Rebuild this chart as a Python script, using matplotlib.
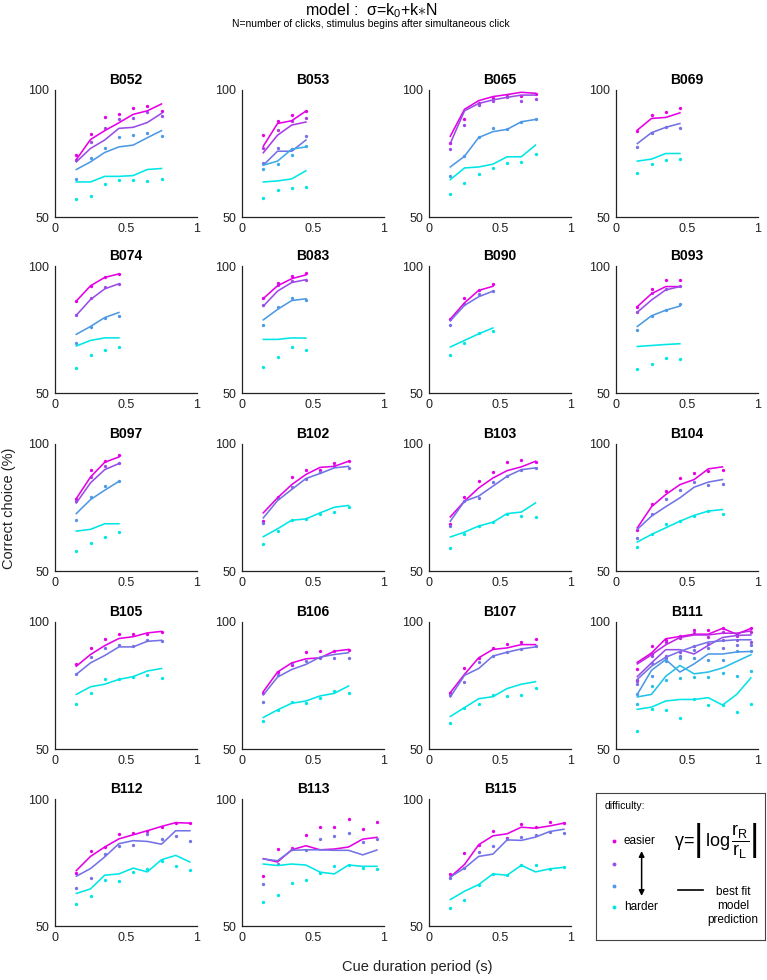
import numpy as np
import matplotlib.pyplot as plt

plt.rcParams["font.family"] = ["Liberation Sans", "DejaVu Sans"]
plt.rcParams["mathtext.fontset"] = "custom"
plt.rcParams["mathtext.rm"] = "Liberation Sans"
plt.rcParams["mathtext.it"] = "Liberation Sans:italic"

# cue durations (s)
DUR4 = [0.15, 0.25, 0.35, 0.45]
DUR7 = [0.15, 0.25, 0.35, 0.45, 0.55, 0.65, 0.75]
DUR9 = [0.15, 0.25, 0.35, 0.45, 0.55, 0.65, 0.75, 0.85, 0.95]

RATS = ["B052", "B053", "B065", "B069", "B074", "B083", "B090", "B093",
        "B097", "B102", "B103", "B104", "B105", "B106", "B107", "B111",
        "B112", "B113", "B115"]

# model fits (rows: easier -> harder), % correct
B052_fit = [[72.6, 80.5, 84.0, 87.1, 90.4, 91.8, 94.5],
            [71.7, 77.0, 80.3, 84.9, 85.3, 87.2, 90.8],
            [68.7, 71.7, 75.4, 77.6, 78.3, 81.2, 84.0],
            [63.8, 63.8, 66.0, 66.0, 66.3, 68.7, 69.1]]
B052_data = [[74.3, 82.8, 89.5, 90.5, 93.0, 93.7, 91.8],
             [72.4, 79.6, 84.9, 88.4, 89.0, 91.2, 89.7],
             [64.9, 73.4, 77.2, 81.6, 82.2, 83.2, 81.8],
             [57.0, 58.2, 62.9, 64.5, 64.7, 64.2, 65.1]]

B053_fit = [[77.9, 86.8, 87.9, 91.7],
            [75.3, 82.2, 86.2, 87.4],
            [70.4, 75.9, 75.9, 80.3],
            [70.4, 72.0, 76.7, 77.6],
            [63.8, 64.2, 65.0, 68.2]]
B053_data = [[82.2, 87.9, 90.1, 91.7],
             [77.2, 84.2, 87.9, 88.8],
             [71.4, 77.0, 76.7, 81.8],
             [68.8, 70.8, 74.3, 77.9],
             [57.6, 60.5, 61.6, 61.8]]

B065_fit = [[81.8, 92.4, 95.8, 97.4, 98.2, 99.1, 98.7],
            [79.0, 91.8, 94.7, 96.1, 97.1, 98.0, 98.0],
            [69.7, 73.9, 81.3, 83.6, 84.5, 87.5, 88.4],
            [64.7, 69.3, 69.7, 70.8, 73.7, 73.7, 78.3]]
B065_data = [[79.2, 88.4, 94.7, 96.7, 97.6, 97.6, 98.4],
             [76.8, 86.1, 94.0, 95.8, 97.1, 95.8, 96.4],
             [66.0, 73.9, 81.3, 84.9, 84.5, 87.5, 88.4],
             [59.2, 63.2, 66.8, 69.3, 71.3, 71.7, 74.7]]

B069_fit = [[84.2, 88.8, 89.2, 91.0],
            [78.9, 83.2, 85.3, 86.8],
            [72.0, 72.8, 75.0, 75.0]]
B069_data = [[83.9, 90.1, 91.2, 92.8],
             [77.6, 83.2, 85.3, 85.1],
             [67.4, 70.8, 72.4, 73.0]]

B074_fit = [[86.2, 92.2, 95.5, 96.9],
            [80.6, 86.8, 91.0, 93.0],
            [73.1, 76.2, 79.7, 81.7],
            [68.5, 70.7, 71.7, 71.7]]
B074_data = [[86.2, 92.2, 95.6, 96.9],
             [80.6, 87.5, 91.6, 93.0],
             [69.5, 75.8, 79.7, 80.4],
             [60.0, 65.1, 67.1, 68.0]]

B083_fit = [[87.2, 92.2, 95.0, 96.5],
            [84.2, 90.1, 93.5, 94.6],
            [78.8, 82.9, 86.4, 87.1],
            [71.1, 71.1, 71.7, 71.6]]
B083_data = [[87.5, 93.3, 95.9, 97.4],
             [84.5, 92.6, 93.9, 94.6],
             [76.9, 83.8, 87.5, 86.8],
             [60.3, 64.2, 68.2, 66.8]]

B090_fit = [[79.1, 85.5, 90.4, 92.0],
            [78.4, 84.5, 87.9, 90.1],
            [68.1, 70.7, 73.3, 75.6]]
B090_data = [[79.1, 87.5, 90.7, 92.9],
             [76.7, 84.9, 89.1, 90.1],
             [64.9, 69.8, 73.5, 74.5]]

B093_fit = [[84.0, 89.1, 91.9, 91.9],
            [81.8, 86.6, 90.6, 91.9],
            [76.2, 80.4, 82.6, 84.2],
            [68.3, 68.7, 69.1, 69.4]]
B093_data = [[84.0, 91.0, 94.4, 94.4],
             [81.8, 89.3, 90.8, 92.1],
             [74.9, 80.4, 82.6, 84.9],
             [59.4, 61.6, 63.6, 63.2]]

B097_fit = [[78.5, 87.0, 92.8, 94.9],
            [76.8, 84.7, 89.9, 92.3],
            [72.6, 78.1, 81.8, 85.3],
            [65.7, 66.4, 68.6, 68.6]]
B097_data = [[78.5, 89.7, 93.2, 95.8],
             [77.5, 87.0, 91.2, 92.5],
             [69.9, 79.2, 83.4, 85.3],
             [57.9, 61.0, 63.4, 65.4]]

B102_fit = [[72.9, 78.8, 84.0, 88.0, 90.8, 91.2, 93.2],
            [70.9, 77.7, 82.1, 86.4, 88.4, 90.6, 91.2],
            [63.5, 66.6, 70.0, 70.5, 72.9, 75.1, 75.8]]
B102_data = [[69.6, 79.2, 87.0, 89.9, 89.7, 92.5, 93.2],
             [69.0, 78.7, 83.0, 86.4, 88.9, 91.2, 90.7],
             [60.7, 65.7, 69.9, 70.5, 72.5, 73.3, 75.3]]

B103_fit = [[71.3, 77.5, 82.7, 86.6, 89.5, 91.0, 93.2],
            [69.6, 77.5, 79.5, 83.4, 87.3, 89.9, 90.6],
            [63.4, 65.3, 67.7, 69.2, 72.6, 73.2, 76.8]]
B103_data = [[68.7, 79.1, 85.6, 89.0, 92.9, 93.6, 92.9],
             [67.9, 77.5, 78.8, 85.1, 87.3, 89.9, 90.5],
             [59.2, 64.4, 67.7, 69.2, 72.5, 71.6, 71.2]]

B104_fit = [[67.0, 75.3, 80.1, 84.0, 86.0, 90.2, 91.0],
            [66.4, 71.6, 75.3, 78.8, 83.0, 85.0, 86.0],
            [61.4, 64.4, 67.0, 69.6, 71.9, 73.6, 74.2]]
B104_data = [[66.1, 76.2, 81.4, 86.6, 88.4, 89.3, 89.9],
             [63.1, 72.3, 78.5, 81.9, 85.1, 83.9, 84.4],
             [59.6, 64.4, 68.6, 69.6, 71.5, 73.6, 72.6]]

B105_fit = [[82.6, 87.2, 90.7, 93.5, 94.2, 95.7, 96.3],
            [79.4, 83.9, 86.8, 90.2, 90.2, 92.4, 92.8],
            [71.5, 74.5, 75.5, 77.4, 78.5, 80.7, 81.7]]
B105_data = [[83.6, 89.6, 93.3, 95.3, 95.4, 95.4, 96.0],
             [79.4, 86.3, 89.6, 91.0, 90.7, 92.8, 92.4],
             [67.6, 72.2, 77.7, 77.7, 78.5, 79.1, 78.1]]

B106_fit = [[72.6, 80.3, 83.9, 85.5, 85.9, 88.5, 89.2],
            [71.3, 78.3, 81.3, 83.3, 86.2, 87.2, 87.9],
            [62.4, 65.4, 68.0, 68.9, 70.9, 71.9, 74.8]]
B106_data = [[72.2, 80.3, 82.9, 88.1, 88.5, 88.5, 88.9],
             [68.7, 79.3, 83.7, 84.5, 85.9, 85.9, 85.9],
             [61.1, 65.4, 68.6, 68.3, 70.2, 72.8, 72.2]]

B107_fit = [[72.2, 79.4, 85.9, 89.2, 89.8, 91.1, 91.1],
            [70.5, 79.0, 81.7, 86.6, 88.1, 89.4, 90.2],
            [62.8, 66.3, 69.8, 70.6, 73.8, 75.5, 76.5]]
B107_data = [[72.2, 81.7, 85.9, 89.8, 91.5, 92.2, 93.3],
             [71.1, 76.4, 84.2, 86.8, 88.1, 89.4, 90.5],
             [60.2, 66.3, 67.9, 71.1, 70.9, 71.4, 73.9]]

B111_fit = [[84.1, 87.8, 93.4, 94.3, 95.2, 95.2, 97.5, 95.2, 97.5],
            [83.5, 87.1, 91.0, 93.9, 94.9, 94.9, 95.6, 95.6, 96.5],
            [78.5, 83.9, 89.1, 89.1, 87.4, 90.8, 93.9, 94.7, 94.9],
            [77.4, 82.6, 86.1, 88.4, 90.4, 92.1, 92.6, 93.0, 93.0],
            [71.5, 81.0, 85.2, 80.3, 83.5, 87.4, 87.4, 88.2, 88.4],
            [70.5, 71.5, 78.6, 82.9, 79.6, 80.3, 81.9, 84.5, 87.1],
            [65.6, 66.5, 68.9, 69.5, 69.5, 70.2, 67.3, 71.5, 78.0]]
B111_data = [[81.3, 90.6, 93.0, 94.3, 96.9, 96.9, 97.5, 95.2, 97.8],
             [77.3, 87.4, 92.3, 93.6, 95.6, 93.9, 96.2, 94.3, 96.2],
             [76.7, 86.5, 86.5, 88.2, 90.4, 91.3, 93.0, 93.0, 92.3],
             [75.4, 83.9, 85.8, 86.5, 89.1, 89.7, 89.7, 91.0, 91.0],
             [71.5, 78.9, 84.5, 85.8, 85.8, 85.2, 85.2, 88.4, 88.4],
             [67.6, 74.7, 77.0, 78.0, 78.3, 78.3, 80.0, 78.9, 80.6],
             [56.9, 65.6, 65.2, 62.4, 69.5, 67.3, 67.3, 64.7, 67.8]]

B112_fit = [[71.8, 77.4, 81.1, 84.3, 85.9, 87.5, 89.2, 90.7, 90.5],
            [69.6, 72.6, 77.2, 82.4, 83.6, 83.3, 82.2, 87.5, 87.5],
            [62.8, 64.6, 70.0, 70.5, 72.8, 71.3, 76.1, 77.8, 75.2]]
B112_data = [[70.9, 79.6, 81.1, 86.3, 86.8, 87.5, 88.9, 90.7, 90.5],
             [65.0, 68.9, 78.3, 81.3, 82.0, 86.3, 84.3, 85.5, 83.3],
             [58.8, 61.7, 68.0, 67.6, 71.4, 72.6, 75.5, 73.5, 72.2]]

B113_fit = [[76.5, 75.2, 80.0, 81.6, 80.0, 80.3, 81.1, 84.2, 84.9],
            [76.4, 75.7, 79.8, 80.0, 80.0, 79.8, 79.8, 78.0, 79.9],
            [74.4, 73.8, 74.4, 74.0, 71.2, 70.5, 74.0, 73.5, 73.5]]
B113_data = [[69.8, 80.3, 80.7, 85.8, 88.9, 88.9, 92.0, 88.1, 90.9],
             [66.6, 74.5, 80.3, 79.8, 84.2, 85.5, 86.6, 82.9, 84.2],
             [59.4, 62.1, 66.9, 68.0, 71.0, 73.8, 74.2, 72.7, 72.6]]

B115_fit = [[69.3, 74.2, 82.0, 85.5, 86.3, 88.9, 88.5, 89.4, 90.5],
            [69.3, 72.8, 77.4, 78.3, 83.9, 83.7, 85.0, 87.2, 88.1],
            [60.4, 63.7, 66.3, 70.5, 70.0, 73.9, 71.3, 72.5, 73.1]]
B115_data = [[70.6, 78.7, 82.0, 87.5, 84.6, 90.2, 88.9, 91.1, 90.5],
             [68.9, 72.8, 79.0, 81.6, 84.2, 85.0, 86.0, 87.2, 86.6],
             [56.9, 60.1, 66.3, 70.5, 70.0, 73.9, 73.9, 72.5, 73.1]]

PANELS = {
    "B052": (DUR7, B052_fit, B052_data), "B053": (DUR4, B053_fit, B053_data),
    "B065": (DUR7, B065_fit, B065_data), "B069": (DUR4, B069_fit, B069_data),
    "B074": (DUR4, B074_fit, B074_data), "B083": (DUR4, B083_fit, B083_data),
    "B090": (DUR4, B090_fit, B090_data), "B093": (DUR4, B093_fit, B093_data),
    "B097": (DUR4, B097_fit, B097_data), "B102": (DUR7, B102_fit, B102_data),
    "B103": (DUR7, B103_fit, B103_data), "B104": (DUR7, B104_fit, B104_data),
    "B105": (DUR7, B105_fit, B105_data), "B106": (DUR7, B106_fit, B106_data),
    "B107": (DUR7, B107_fit, B107_data), "B111": (DUR9, B111_fit, B111_data),
    "B112": (DUR9, B112_fit, B112_data), "B113": (DUR9, B113_fit, B113_data),
    "B115": (DUR9, B115_fit, B115_data),
}

W, H = 767, 980
COL_LEFT = [55, 242, 429, 616]
ROW_TOP = [90, 266, 444, 622, 799]
AX_W, AX_H = 142, 127
SPINE = "#222222"


def level_colors(n):
    # magenta (easier) -> cyan (harder), like matlab "cool"
    return [np.array(plt.cm.cool(1 - i / (n - 1))[:3]) * 0.9 for i in range(n)]


def px_rect(left, top, w, h):
    return [left / W, 1 - (top + h) / H, w / W, h / H]


fig = plt.figure(figsize=(W / 100, H / 100), dpi=100)

for k, rat in enumerate(RATS):
    row, col = divmod(k, 4)
    ax = fig.add_axes(px_rect(COL_LEFT[col], ROW_TOP[row], AX_W, AX_H))
    dur, fit, data = PANELS[rat]
    colors = level_colors(len(fit))
    for f, d, c in zip(fit, data, colors):
        ax.plot(dur, d, "o", ms=2.4, color=c, mec="none", zorder=2)
        ax.plot(dur, f, "-", lw=1.15, color=c, zorder=3)
    ax.set_xlim(0, 1)
    ax.set_ylim(50, 100)
    ax.set_xticks([0, 0.5, 1])
    ax.set_xticklabels(["0", "0.5", "1"])
    ax.set_yticks([50, 100])
    ax.tick_params(direction="in", length=0, labelsize=9, pad=4,
                   colors=SPINE)
    for s in ("top", "right"):
        ax.spines[s].set_visible(False)
    for s in ("left", "bottom"):
        ax.spines[s].set_color(SPINE)
        ax.spines[s].set_linewidth(0.9)
    ax.set_title(rat, fontsize=10, fontweight="bold", pad=4)

# legend box in the empty last slot
lg = fig.add_axes(px_rect(596, 793, 169, 147))
lg.set_xlim(0, 1)
lg.set_ylim(0, 1)
lg.set_xticks([])
lg.set_yticks([])
for s in lg.spines.values():
    s.set_color("#444444")
    s.set_linewidth(0.8)
lg.text(0.05, 0.91, "difficulty:", fontsize=7.5, va="center")
leg_y = [0.673, 0.517, 0.367, 0.224]
for y, c in zip(leg_y, level_colors(4)):
    lg.plot(0.107, y, "o", ms=2.8, color=c, mec="none")
lg.text(0.165, leg_y[0], "easier", fontsize=8.5, va="center")
lg.text(0.165, leg_y[-1], "harder", fontsize=8.5, va="center")
lg.annotate("", xy=(0.27, 0.30), xytext=(0.27, 0.605),
            arrowprops=dict(arrowstyle="<|-|>", color="black", lw=1.1,
                            mutation_scale=8, shrinkA=0, shrinkB=0))
lg.text(0.71, 0.68,
        r"$\mathrm{\gamma}$=$\left|\,\mathrm{log}\,\dfrac{\mathrm{r}_\mathrm{R}}{\mathrm{r}_\mathrm{L}}\right|$",
        fontsize=13, ha="center", va="center")
lg.plot([0.485, 0.633], [0.34, 0.34], "-", color="black", lw=1.2)
lg.text(0.81, 0.23, "best fit\nmodel\nprediction", fontsize=8.5,
        ha="center", va="center", linespacing=1.25)

fig.text(371 / W, 1 - 11 / H, r"model :  $\mathrm{\sigma}$=k$_0$+k$\ast$N",
         fontsize=11.5, ha="center", va="center")
fig.text(371 / W, 1 - 24 / H,
         "N=number of clicks, stimulus begins after simultaneous click",
         fontsize=7.5, ha="center", va="center")
fig.text(9 / W, 1 - 508 / H, "Correct choice (%)", fontsize=10.5,
         rotation=90, ha="center", va="center", color="#222222")
fig.text(417 / W, 1 - 967 / H, "Cue duration period (s)", fontsize=10.5,
         ha="center", va="center", color="#222222")

fig.savefig("out.png", dpi=100)
